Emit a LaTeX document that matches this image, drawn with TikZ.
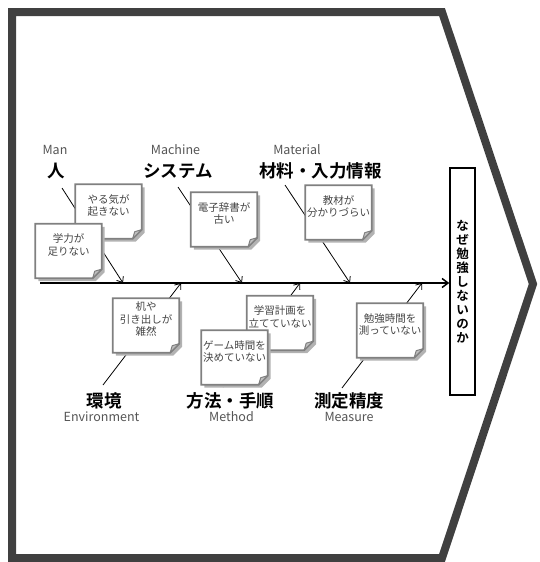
\documentclass[tikz,border=0pt]{standalone}
\usepackage{fontspec}
\setmainfont{Noto Sans CJK JP}[BoldFont={Noto Sans CJK JP Bold}]
\usetikzlibrary{arrows.meta}
\definecolor{framegray}{HTML}{404040}
\definecolor{notegray}{HTML}{808080}
\definecolor{notetext}{HTML}{444444}
\definecolor{labgray}{HTML}{555555}
\tikzset{
 frameline/.style={draw=framegray, line width=8pt, line join=miter},
 spine/.style={line width=1.5pt, -{Straight Barb[length=6pt,width=9pt]}},
 bone/.style={line width=0.8pt, -{Straight Barb[length=5pt,width=8pt]}},
 paper/.style={minimum width=66pt, minimum height=54pt, inner sep=0pt},
 notetxt/.style={anchor=center, inner sep=0pt, align=center, text=notetext, font=\fontsize{10.5}{12.5}\selectfont},
 catjp/.style={font=\bfseries\fontsize{17.5}{20}\selectfont, inner sep=0pt},
 caten/.style={font=\fontsize{12.5}{14}\selectfont, text=labgray, inner sep=0pt},
 effectbox/.style={draw, line width=1.5pt, minimum width=25pt, minimum height=227pt, inner sep=0pt, align=center, font=\bfseries\fontsize{12.5}{14}\selectfont},
}
\newcommand\drawpaper[1]{%
 \fill[black!30] ([shift={(3,3)}]#1.north west) -- ([shift={(3,3)}]#1.north east) -- ([shift={(3,-6)}]#1.south east) -- ([shift={(-6,3)}]#1.south east) -- ([shift={(3,3)}]#1.south west) -- cycle;
 \filldraw[fill=white, draw=notegray, line width=1.8pt, line join=miter] (#1.north west) -- (#1.north east) -- ([yshift=9pt]#1.south east) -- ([xshift=-9pt]#1.south east) -- (#1.south west) -- cycle;
 \filldraw[fill=black!25, draw=notegray, line width=1pt, line join=round] ([yshift=9pt]#1.south east) -- ([xshift=-9pt]#1.south east) -- ([shift={(-7,-7)}]#1.south east) -- cycle;
}
\begin{document}
\begin{tikzpicture}[x=1pt, y=-1pt]
\useasboundingbox (0,0) rectangle (540,562);
% frame
\draw[frameline] (12,12) -- (442,12) -- (533,284) -- (442,558) -- (12,558) -- cycle;
% effect
\node[effectbox] (eff) at (462.5,281.5) {な\\ぜ\\勉\\強\\し\\な\\い\\の\\か};
% spine
\coordinate (sp0) at (40,283);
\draw[spine] (sp0) -- (sp0 -| eff.west);
% bones
\coordinate (b1s) at (62,188);  \coordinate (b1e) at (123,283);
\coordinate (b2s) at (178,187); \coordinate (b2e) at (242,283);
\coordinate (b3s) at (285,185); \coordinate (b3e) at (350,283);
\coordinate (b4s) at (103,385); \coordinate (b4e) at (181,283);
\coordinate (b5s) at (223,387); \coordinate (b5e) at (300,283);
\coordinate (b6s) at (342,388); \coordinate (b6e) at (422,283);
\draw[bone] (b1s) -- (b1e);
\draw[bone] (b2s) -- (b2e);
\draw[bone] (b3s) -- (b3e);
\draw[bone] (b4s) -- (b4e);
\draw[bone] (b5s) -- (b5e);
\draw[bone] (b6s) -- (b6e);
% notes
\node[paper] (nA) at (108.5,211.5) {}; \drawpaper{nA}
\node[notetxt] (tA) at ([yshift=-21pt]nA.north) {やる気が\\起きない};
\node[paper] (nB) at (68.5,251) {}; \drawpaper{nB}
\node[notetxt] (tB) at ([yshift=-21pt]nB.north) {学力が\\足りない};
\node[paper] (nC) at (224,219.5) {}; \drawpaper{nC}
\node[notetxt] (tC) at ([yshift=-21pt]nC.north) {電子辞書が\\古い};
\node[paper] (nD) at (338.5,212.5) {}; \drawpaper{nD}
\node[notetxt] (tD) at ([yshift=-21pt]nD.north) {教材が\\分かりづらい};
\node[paper] (nE) at (146,325.5) {}; \drawpaper{nE}
\node[notetxt] (tE) at ([yshift=-21pt]nE.north) {机や\\引き出しが\\雑然};
\node[paper] (nF) at (280,323) {}; \drawpaper{nF}
\node[notetxt] (tF) at ([yshift=-21pt]nF.north) {学習計画を\\立てていない};
\node[paper] (nG) at (234.5,357.5) {}; \drawpaper{nG}
\node[notetxt] (tG) at ([yshift=-21pt]nG.north) {ゲーム時間を\\決めていない};
\node[paper] (nH) at (390,330.5) {}; \drawpaper{nH}
\node[notetxt] (tH) at ([yshift=-21pt]nH.north) {勉強時間を\\測っていない};
% category labels
\node[caten] (eMan) at (55,150) {Man};
\node[catjp] (jMan) at (56,171) {人};
\node[caten] (eMach) at (175.5,150) {Machine};
\node[catjp] (jMach) at (178,171) {システム};
\node[caten] (eMat) at (297,150) {Material};
\node[catjp] (jMat) at (320.5,171) {材料・入力情報};
\node[catjp] (jEnv) at (104,401) {環境};
\node[caten] (eEnv) at (101.5,417) {Environment};
\node[catjp] (jMet) at (230.5,401) {方法・手順};
\node[caten] (eMet) at (231.5,417) {Method};
\node[catjp] (jMea) at (349,401) {測定精度};
\node[caten] (eMea) at (349,417) {Measure};
\end{tikzpicture}
\end{document}
